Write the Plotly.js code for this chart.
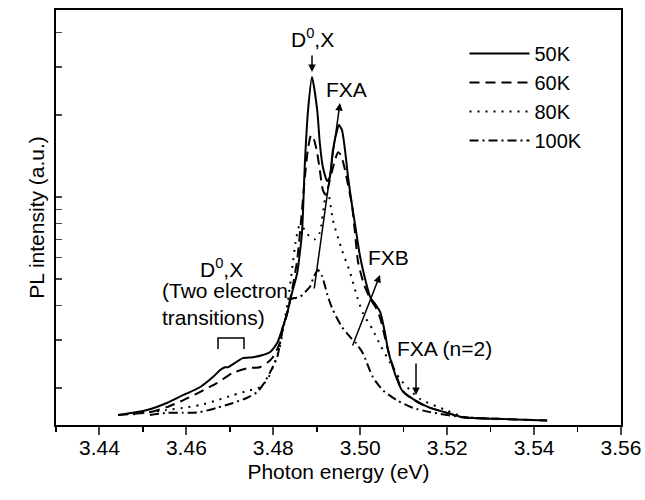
<!DOCTYPE html>
<html>
<head>
<meta charset="utf-8">
<script src="https://cdn.plot.ly/plotly-3.0.1.min.js"></script>
<style>html,body{margin:0;padding:0;background:#fff;}#chart{width:645px;height:500px;}</style>
</head>
<body>
<div id="chart"></div>
<script>
// Photon energy (eV) and PL intensity (a.u., log scale)
var x50 = [3.4443,3.4477,3.4516,3.4555,3.4592,3.4631,3.4661,3.4677,3.4689,3.4696,3.4712,3.4730,3.4753,3.4776,3.4792,3.4809,3.4822,3.4832,3.4843,3.4855,3.4861,3.4866,3.4873,3.4880,3.4889,3.4901,3.4907,3.4914,3.4924,3.4930,3.4937,3.4947,3.4951,3.4958,3.4965,3.4972,3.4981,3.4990,3.4999,3.5009,3.5023,3.5036,3.5046,3.5057,3.5064,3.5075,3.5085,3.5096,3.5115,3.5138,3.5161,3.5200,3.5237,3.5315,3.5430];
var y50 = [1.59,1.62,1.67,1.76,1.88,2.01,2.19,2.32,2.38,2.38,2.47,2.57,2.59,2.64,2.70,2.92,3.34,3.76,4.45,5.27,6.23,7.38,13.66,20.83,27.52,20.83,15.77,12.88,11.44,11.83,14.86,17.59,18.35,17.59,14.86,11.83,9.35,7.57,6.13,5.18,4.30,4.02,3.79,3.18,2.75,2.38,2.14,1.96,1.85,1.76,1.69,1.62,1.56,1.54,1.52];

var x60 = [3.4443,3.4516,3.4555,3.4592,3.4631,3.4670,3.4707,3.4740,3.4769,3.4786,3.4799,3.4815,3.4822,3.4832,3.4843,3.4855,3.4866,3.4873,3.4880,3.4887,3.4894,3.4901,3.4907,3.4914,3.4921,3.4930,3.4942,3.4949,3.4956,3.4965,3.4972,3.4981,3.4988,3.4995,3.5009,3.5023,3.5036,3.5046,3.5057,3.5069,3.5085,3.5096,3.5115,3.5138,3.5161,3.5200,3.5237,3.5315,3.5430];
var y60 = [1.59,1.63,1.70,1.80,1.93,2.08,2.27,2.36,2.38,2.47,2.59,2.92,3.34,3.76,4.56,5.88,8.96,12.0,15.1,16.87,16.17,14.49,12.56,10.61,10.17,11.54,13.66,14.6,14.2,12.56,11.06,9.35,7.38,5.78,4.76,4.24,3.93,3.60,3.05,2.57,2.18,1.96,1.84,1.75,1.69,1.62,1.56,1.54,1.52];

var x80 = [3.4477,3.4555,3.4592,3.4631,3.4670,3.4707,3.4746,3.4769,3.4786,3.4799,3.4815,3.4822,3.4834,3.4843,3.4852,3.4861,3.4873,3.4884,3.4896,3.4907,3.4919,3.4926,3.4937,3.4958,3.4977,3.4993,3.5006,3.5029,3.5046,3.5069,3.5092,3.5115,3.5138,3.5200,3.5237,3.5315];
var y80 = [1.60,1.66,1.69,1.73,1.80,1.88,1.96,2.01,2.14,2.38,2.82,3.26,4.20,5.40,6.96,7.90,7.57,7.14,7.00,7.40,9.80,10.40,8.24,6.39,5.27,4.30,3.76,3.26,2.87,2.47,2.15,1.96,1.82,1.65,1.57,1.54];

var x100 = [3.4516,3.4555,3.4592,3.4631,3.4670,3.4707,3.4740,3.4763,3.4776,3.4792,3.4809,3.4820,3.4832,3.4838,3.4850,3.4861,3.4873,3.4884,3.4894,3.4903,3.4912,3.4926,3.4937,3.4958,3.4977,3.4990,3.5006,3.5029,3.5052,3.5085,3.5121,3.5161,3.5237,3.5315];
var y100 = [1.59,1.62,1.62,1.63,1.69,1.76,1.84,1.93,2.05,2.27,2.59,3.18,3.76,4.20,4.27,4.30,4.49,4.68,5.14,5.40,5.14,4.30,3.86,3.34,3.07,2.92,2.68,2.19,1.96,1.80,1.69,1.63,1.56,1.54];

var seriesNames = ['50K','60K','80K','100K'];
var xTickVals = [3.44,3.46,3.48,3.50,3.52,3.54,3.56];
var xTickText = ['3.44','3.46','3.48','3.50','3.52','3.54','3.56'];
var yTickVals = [2,3,4,5,6,7,8,9,10,20,30,40];

var FONT = 'Arial, "Liberation Sans", sans-serif';
var dashes = ['solid','10px,6px','2px,6px','9px,4px,2px,4px'];
var xs = [x50,x60,x80,x100], ys = [y50,y60,y80,y100];
var traces = seriesNames.map(function(n,i){
  return {x: xs[i], y: ys[i], name: n, type: 'scatter', mode: 'lines',
    line: {color: '#000', width: 2, dash: dashes[i], shape: 'spline', smoothing: 0.6}};
});

function px2x(p){ return 3.43 + (p-56)/4346; }
function py2p(p){ return (425-p)/415; }

var ann = [];
function txt(t, px, py, opts){
  var a = {text: t, x: px2x(px), y: py2p(py), xref: 'x', yref: 'paper', showarrow: false,
    xanchor: 'center', yanchor: 'middle',
    font: {family: FONT, size: 21, color: '#000'}};
  for (var k in opts) a[k] = opts[k];
  ann.push(a);
}
function arrow(hx, hy, tx, ty){
  ann.push({text: '', x: px2x(hx), y: py2p(hy), xref: 'x', yref: 'paper', showarrow: true,
    ax: tx-hx, ay: ty-hy, arrowhead: 2, arrowsize: 1, arrowwidth: 1.5, arrowcolor: '#000', standoff: 0});
}
txt('D<sup>0</sup>,X', 312, 38, {});
arrow(312, 72, 312, 54);
txt('FXA', 346, 90, {});
arrow(340, 103, 314, 290);
txt('FXB', 388, 257, {});
arrow(380, 275, 352, 347);
txt('FXA (n=2)', 444, 348, {});
arrow(416, 395, 416, 362);
txt('D<sup>0</sup>,X', 221, 268, {});
txt('(Two electron<br>transitions)', 160, 304, {xanchor: 'left', align: 'left'});

var layout = {
  width: 645, height: 500,
  margin: {l: 56, r: 24, t: 10, b: 75},
  paper_bgcolor: '#fff', plot_bgcolor: '#fff',
  font: {family: FONT, size: 21, color: '#000'},
  showlegend: true,
  legend: {x: 0.723, y: 0.942, xanchor: 'left', yanchor: 'top', bgcolor: 'rgba(0,0,0,0)',
    font: {family: FONT, size: 20, color: '#000'}, itemwidth: 60, tracegroupgap: 0},
  xaxis: {range: [3.43, 3.56], tickvals: xTickVals, ticktext: xTickText, ticks: 'outside', ticklen: 8, tickwidth: 2,
    ticklabelstandoff: -5,
    minor: {dtick: 0.01, ticks: 'outside', ticklen: 5, tickwidth: 1.5, tickcolor: '#000'},
    showline: true, linewidth: 2, linecolor: '#000', mirror: true, showgrid: false, zeroline: false,
    tickfont: {family: FONT, size: 21, color: '#000'},
    title: {text: 'Photon energy (eV)', font: {family: FONT, size: 21, color: '#000'}, standoff: 6}},
  yaxis: {type: 'log', range: [0.165, 1.685], tickvals: yTickVals, ticks: 'inside', ticklen: 6, tickwidth: 1.5,
    showticklabels: false, showline: true, linewidth: 2, linecolor: '#000', mirror: true, showgrid: false, zeroline: false,
    title: {text: 'PL intensity (a.u.)', font: {family: FONT, size: 21, color: '#000'}, standoff: 4}},
  annotations: ann,
  shapes: [{type: 'path', xref: 'x', yref: 'paper',
    path: 'M' + px2x(218) + ',' + py2p(349) + ' L' + px2x(218) + ',' + py2p(338) + ' L' + px2x(244) + ',' + py2p(338) + ' L' + px2x(244) + ',' + py2p(349),
    line: {color: '#000', width: 1.5}}]
};
Plotly.newPlot('chart', traces, layout, {displayModeBar: false, staticPlot: true});
</script>
</body>
</html>
